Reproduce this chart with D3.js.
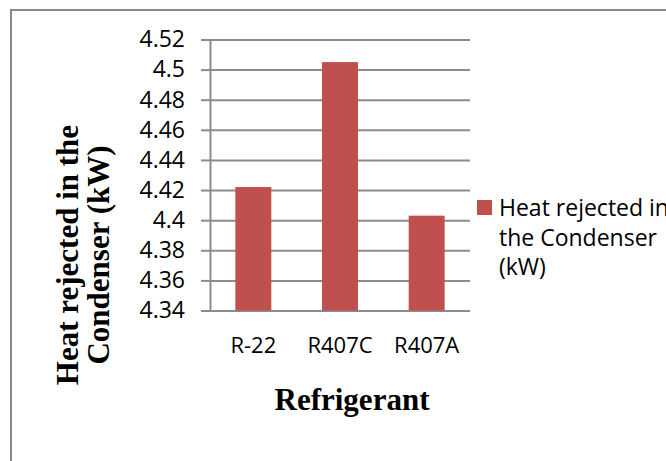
<!DOCTYPE html>
<html>
<head>
<meta charset="utf-8">
<script src="https://cdn.jsdelivr.net/npm/d3@7"></script>
<style>
  html, body { margin: 0; padding: 0; background: #fff; overflow: hidden; }
  svg { display: block; }
</style>
</head>
<body>
<svg id="chart" width="666" height="461"></svg>
<script>
// data
const refrigerants = ['R-22', 'R407C', 'R407A'];
const heatRejected = [4.422, 4.505, 4.403];
const yTicks = [4.34, 4.36, 4.38, 4.40, 4.42, 4.44, 4.46, 4.48, 4.50, 4.52];
const seriesName = ['Heat rejected in', 'the Condenser', '(kW)'];
const yTitle = ['Heat rejected in the', 'Condenser (kW)'];
const xTitle = 'Refrigerant';

const svg = d3.select('#chart');
const barColor = '#C0504D';
const gridColor = '#8c8c8c';
const sans = "'Open Sans', sans-serif";
const serif = "'Liberation Serif', 'Times New Roman', serif";

// chart frame (runs off the right and bottom edge)
svg.append('path')
    .attr('d', 'M11,480 L11,10 L680,10')
    .attr('fill', 'none')
    .attr('stroke', '#888')
    .attr('stroke-width', 2);

let x = d3.scaleBand()
    .domain(refrigerants)
    .range([210, 470])
    .paddingInner(0.585)
    .paddingOuter(0.2925);

let y = d3.scaleLinear()
    .domain([4.34, 4.52])
    .range([310.5, 39.5]);

//gridlines
svg.append('g')
    .attr('transform', 'translate(210,0)')
    .call(d3.axisLeft(y).tickValues(yTicks).tickSize(-260).tickFormat(''))
    .call(g => g.select('.domain').remove())
    .call(g => g.selectAll('line').attr('stroke', gridColor).attr('stroke-width', 2));

// bars
svg.append('g')
    .selectAll('rect')
    .data(heatRejected)
    .join('rect')
    .attr('x', (d, i) => x(refrigerants[i]))
    .attr('width', x.bandwidth())
    .attr('y', d => y(d))
    .attr('height', d => y(4.34) - y(d))
    .attr('fill', barColor);

// y axis
svg.append('g')
    .attr('transform', 'translate(210,0)')
    .call(d3.axisLeft(y).tickValues(yTicks).tickSize(9).tickSizeOuter(0).tickPadding(16)
        .tickFormat(d => String(+d.toFixed(2))))
    .call(g => g.select('.domain').attr('stroke', gridColor).attr('stroke-width', 2))
    .call(g => g.selectAll('line').attr('stroke', gridColor).attr('stroke-width', 2))
    .call(g => g.selectAll('text')
        .attr('fill', '#000')
        .style('font-family', sans)
        .style('font-size', '23px'));

// x axis labels
svg.append('g')
    .attr('transform', 'translate(0,310)')
    .call(d3.axisBottom(x).tickSize(0))
    .call(g => g.select('.domain').remove())
    .call(g => g.selectAll('text')
        .attr('y', 43)
        .attr('dy', null)
        .attr('fill', '#000')
        .style('font-family', sans)
        .style('font-size', '22px'));

// axis titles
svg.append('g')
    .selectAll('text')
    .data(yTitle)
    .join('text')
    .attr('transform', (d, i) => `translate(${78 + i * 31},255) rotate(-90)`)
    .attr('text-anchor', 'middle')
    .style('font-family', serif)
    .style('font-weight', 'bold')
    .style('font-size', '31px')
    .text(d => d);

svg.append('text')
    .attr('x', 352)
    .attr('y', 410)
    .attr('text-anchor', 'middle')
    .style('font-family', serif)
    .style('font-weight', 'bold')
    .style('font-size', '31px')
    .text(xTitle);

// legend
svg.append('rect')
    .attr('x', 477)
    .attr('y', 200)
    .attr('width', 15)
    .attr('height', 15)
    .attr('fill', barColor);

svg.append('g')
    .selectAll('text')
    .data(seriesName)
    .join('text')
    .attr('x', 499)
    .attr('y', (d, i) => 216 + i * 29.5)
    .style('font-family', sans)
    .style('font-size', '23px')
    .text(d => d);
</script>
</body>
</html>
